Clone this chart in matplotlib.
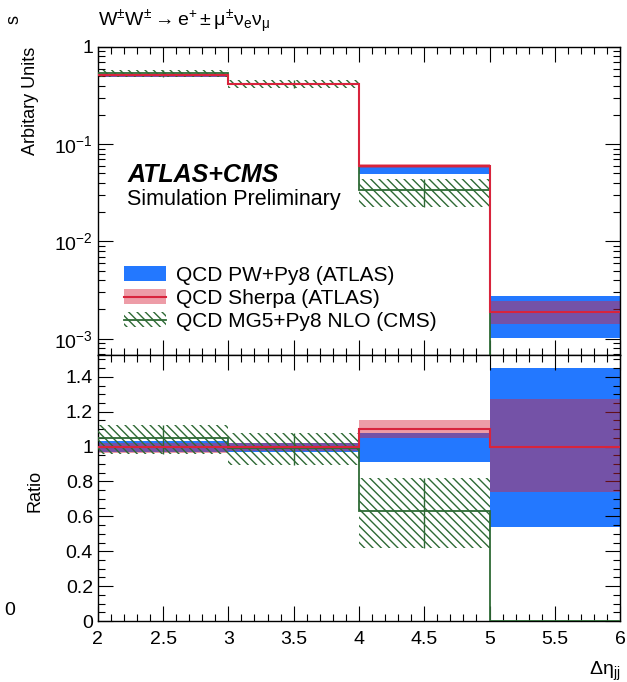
import numpy as np
import matplotlib
matplotlib.use("Agg")
import matplotlib.pyplot as plt
from matplotlib.patches import Patch
from matplotlib.lines import Line2D
from matplotlib.ticker import MultipleLocator, LogLocator, FuncFormatter, NullFormatter

plt.rcParams['font.family'] = ['Liberation Sans', 'DejaVu Sans']
plt.rcParams['mathtext.fontset'] = 'custom'
plt.rcParams['mathtext.rm'] = 'Liberation Sans'
plt.rcParams['mathtext.it'] = 'Liberation Sans:italic'
plt.rcParams['mathtext.bf'] = 'Liberation Sans:bold'
plt.rcParams['hatch.linewidth'] = 1.0

# bin edges in delta eta_jj
edges = [2, 3, 4, 5, 6]

# QCD PW+Py8 (ATLAS): normalised distribution (reference for the ratio)
pw_val = [0.51, 0.42, 0.054, 0.0019]
pw_ratio_lo = [0.97, 0.97, 0.91, 0.54]
pw_ratio_hi = [1.03, 1.02, 1.08, 1.45]

# QCD Sherpa (ATLAS), ratio to PW
sherpa_ratio = [1.0, 1.0, 1.10, 1.0]
sherpa_ratio_lo = [0.965, 0.975, 1.05, 0.74]
sherpa_ratio_hi = [1.02, 1.02, 1.15, 1.27]

# QCD MG5+Py8 NLO (CMS), ratio to PW
cms_ratio = [1.05, 0.99, 0.63, 0.0]
cms_ratio_lo = [0.955, 0.895, 0.42, 0.0]
cms_ratio_hi = [1.125, 1.08, 0.82, 0.0]

blue = '#2378ff'
red = '#d8243c'
green = '#2e6a35'
hatch = '\\\\\\\\'

edges = np.array(edges)
pw_val = np.array(pw_val)
centers = 0.5 * (edges[:-1] + edges[1:])


def draw_panel(ax, ref):
    """draw the three predictions, scaled by ref (1 for the ratio panel)"""
    for i in range(len(ref)):
        x = edges[i:i + 2]
        ax.fill_between(x, ref[i] * pw_ratio_lo[i], ref[i] * pw_ratio_hi[i],
                        color=blue, lw=0, zorder=1)
        ax.fill_between(x, ref[i] * sherpa_ratio_lo[i], ref[i] * sherpa_ratio_hi[i],
                        color=red, alpha=0.45, lw=0, zorder=2)
        if cms_ratio_hi[i] > 0:
            ax.fill_between(x, ref[i] * cms_ratio_lo[i], ref[i] * cms_ratio_hi[i],
                            facecolor='none', edgecolor=green, hatch=hatch, lw=0, zorder=3)
            ax.vlines(centers[i], ref[i] * cms_ratio_lo[i], ref[i] * cms_ratio_hi[i],
                      color=green, lw=1.0, zorder=3)
    ax.stairs(ref * np.array(cms_ratio), edges, baseline=None, color=green, lw=1.3, zorder=4)
    ax.stairs(ref * np.array(sherpa_ratio), edges, baseline=None, color=red, lw=1.5, zorder=5)


def style_axis(ax):
    ax.tick_params(which='both', direction='in', top=True, right=True, width=0.8, labelsize=14)
    ax.tick_params(which='major', length=11)
    ax.tick_params(which='minor', length=5)
    ax.xaxis.set_major_locator(MultipleLocator(0.5))
    ax.xaxis.set_minor_locator(MultipleLocator(0.1))
    for s in ax.spines.values():
        s.set_linewidth(1.0)


fig = plt.figure(figsize=(6.27, 6.82), dpi=100)
ax1 = fig.add_axes([0.156, 0.4795, 0.833, 0.4516])
ax2 = fig.add_axes([0.156, 0.0894, 0.833, 0.3901], sharex=ax1)

# upper panel
draw_panel(ax1, pw_val)
ax1.set_yscale('log')
ax1.set_ylim(6.8e-4, 1.0)
ax1.set_xlim(2, 6)
style_axis(ax1)
ax1.yaxis.set_major_locator(LogLocator(base=10, numticks=10))
ax1.yaxis.set_minor_locator(LogLocator(base=10, subs=np.arange(2, 10), numticks=20))
ax1.yaxis.set_minor_formatter(NullFormatter())
ax1.yaxis.set_major_formatter(FuncFormatter(
    lambda v, p: '1' if abs(v - 1) < 1e-9 else r'$10^{%d}$' % round(np.log10(v))))
ax1.tick_params(labelbottom=False)
ax1.set_ylabel('Arbitary Units', fontsize=13, loc='top')
ax1.yaxis.set_label_coords(-0.112, 1.0)

ax1.text(0.056, 0.562, 'ATLAS+CMS', transform=ax1.transAxes, fontsize=18,
         fontweight='bold', fontstyle='italic')
ax1.text(0.056, 0.487, 'Simulation Preliminary', transform=ax1.transAxes, fontsize=15.5)

handles = [
    Patch(facecolor=blue, lw=0),
    (Patch(facecolor=red, alpha=0.45, lw=0), Line2D([], [], color=red, lw=1.5)),
    (Patch(facecolor='none', edgecolor=green, hatch=hatch, lw=0), Line2D([], [], color=green, lw=1.3)),
]
labels = ['QCD PW+Py8 (ATLAS)', 'QCD Sherpa (ATLAS)', 'QCD MG5+Py8 NLO (CMS)']
ax1.legend(handles, labels, loc='upper left', bbox_to_anchor=(0.05, 0.29), frameon=False,
           fontsize=15, borderpad=0, borderaxespad=0, handlelength=2.0, handleheight=0.7,
           handletextpad=0.5, labelspacing=0.2)

fig.text(0.156, 0.962, r'$\mathrm{W^{\pm}W^{\pm} \rightarrow e^{+} \pm \mu^{\pm}\nu_{e}\nu_{\mu}}$',
         fontsize=14, ha='left', va='baseline')

# ratio panel
draw_panel(ax2, np.ones(len(pw_val)))
ax2.set_ylim(0, 1.525)
style_axis(ax2)
ax2.yaxis.set_major_locator(MultipleLocator(0.2))
ax2.yaxis.set_minor_locator(MultipleLocator(0.05))
fmt = FuncFormatter(lambda v, p: '%g' % round(v, 2))
ax2.xaxis.set_major_formatter(fmt)
ax2.yaxis.set_major_formatter(fmt)
ax2.tick_params(axis='x', pad=7)
ax2.set_ylabel('Ratio', fontsize=13)
ax2.yaxis.set_label_coords(-0.104, 0.49)
ax2.set_xlabel(r'$\Delta\mathrm{\eta}_{\mathrm{jj}}$', fontsize=14, loc='right', labelpad=9)

# clipped fragments from the neighbouring figure
fig.text(0.006, 0.105, '0', fontsize=14, ha='left', va='center')
fig.text(0.022, 0.972, 's', fontsize=13, rotation=90, ha='center', va='center')

fig.savefig('out.png', dpi=100)
